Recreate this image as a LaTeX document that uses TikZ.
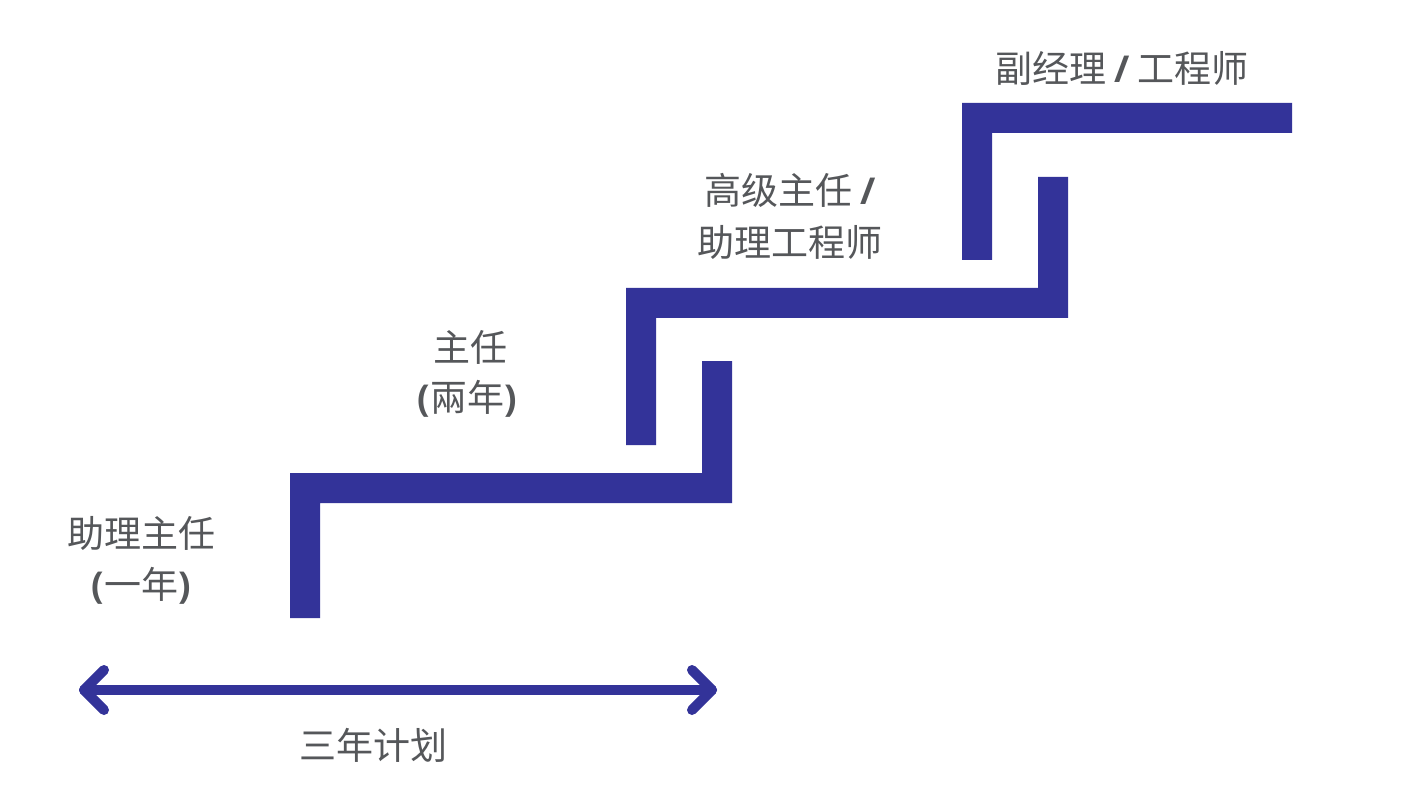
\documentclass[tikz,border=0pt]{standalone}
\usepackage{fontspec}
\setmainfont{Noto Sans CJK SC}
\newfontfamily\latb{Open Sans}
\definecolor{stairblue}{HTML}{333399}
\definecolor{txtgray}{HTML}{55575A}
\newcommand{\bp}[1]{{\latb\bfseries #1}}
\begin{document}
\begin{tikzpicture}[x=1pt,y=-1pt,
  lbl/.style={text=txtgray,font=\fontsize{37}{52}\selectfont,align=center,inner sep=0pt},
  stair/.style={fill=stairblue},
  span/.style={draw=stairblue,line width=10pt,line cap=round,line join=round}]
\useasboundingbox[fill=white] (0,0) rectangle (1407,791);
% step 1
\fill[stair] (290,618) -- (290,473) -- (702,473) -- (702,361) -- (732,361) -- (732,503) -- (320,503) -- (320,618) -- cycle;
% step 2
\fill[stair] (626,445) -- (626,288) -- (1038,288) -- (1038,177) -- (1068,177) -- (1068,318) -- (656,318) -- (656,445) -- cycle;
% step 3
\fill[stair] (962,260) -- (962,103) -- (1292,103) -- (1292,133) -- (992,133) -- (992,260) -- cycle;
% arrow
\coordinate (aL) at (84,690);
\coordinate (aR) at (712,690);
\draw[span] (aL) -- (aR);
\draw[span] ([shift={(20,-20)}]aL) -- (aL) -- ([shift={(20,20)}]aL);
\draw[span] ([shift={(-20,-20)}]aR) -- (aR) -- ([shift={(-20,20)}]aR);
% labels
\node[lbl] (l1a) at (141,533) {助理主任};
\node[lbl] (l1b) at (141,586) {\bp{(}一年\bp{)}};
\node[lbl] (l2a) at (470,347) {主任};
\node[lbl] (l2b) at (467,399) {\bp{(}兩年\bp{)}};
\node[lbl] (l3a) at (790,190) {高级主任 \bp{/}};
\node[lbl] (l3b) at (790,242) {助理工程师};
\node[lbl] (l4) at (1122,68) {副经理 \bp{/} 工程师};
\node[lbl] (plan) at (373,745) {三年计划};
\end{tikzpicture}
\end{document}
